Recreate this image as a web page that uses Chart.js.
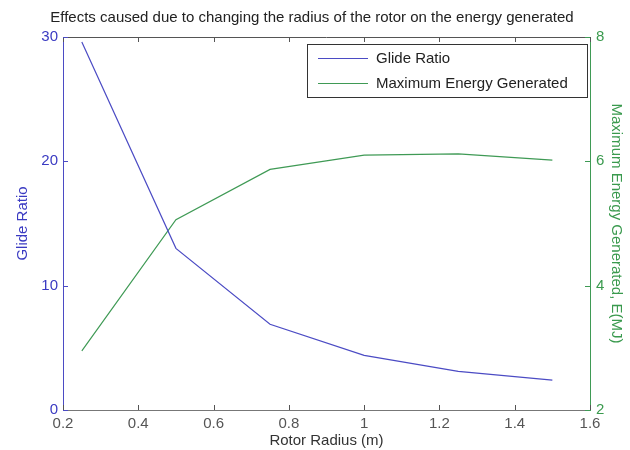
<!DOCTYPE html>
<html>
<head>
<meta charset="utf-8">
<script src="https://cdn.jsdelivr.net/npm/chart.js@4/dist/chart.umd.min.js"></script>
<style>
  html, body { margin: 0; padding: 0; background: #ffffff; }
  #wrap { width: 630px; height: 450px; position: relative; }
</style>
</head>
<body>
<div id="wrap"><canvas id="c" width="630" height="450"></canvas></div>
<script>
// Rotor radius (m) and the two measured quantities
const radius = [0.25, 0.5, 0.75, 1.0, 1.25, 1.5];
const glideRatio = [29.6, 13.0, 6.9, 4.4, 3.1, 2.4];
const energyMJ = [2.95, 5.06, 5.87, 6.10, 6.12, 6.02];

const xTicks = [0.2, 0.4, 0.6, 0.8, 1.0, 1.2, 1.4, 1.6];
const leftTicks = [0, 10, 20, 30];
const rightTicks = [2, 4, 6, 8];

const titleText = 'Effects caused due to changing the radius of the rotor on the energy generated';
const blue = '#4b4bc4';
const green = '#3f9a55';
const blueText = '#3a3ac2';
const greenText = '#3a9a4e';
const FONT = '"Liberation Sans", Arial, sans-serif';
const FS = 15;

// MATLAB-style frame: inward ticks, top border, title and boxed legend
const framePlugin = {
  id: 'frame',
  afterDraw(chart) {
    const { ctx, chartArea: a, scales } = chart;
    const L = 5;
    ctx.save();
    ctx.lineWidth = 1;
    // top border
    ctx.strokeStyle = '#555555';
    ctx.beginPath();
    ctx.moveTo(a.left, a.top + 0.5);
    ctx.lineTo(a.right, a.top + 0.5);
    ctx.stroke();
    // x ticks, bottom and top, pointing into the plot
    xTicks.forEach(v => {
      const px = Math.round(scales.x.getPixelForValue(v)) + 0.5;
      ctx.beginPath();
      ctx.moveTo(px, a.bottom); ctx.lineTo(px, a.bottom - L);
      ctx.moveTo(px, a.top); ctx.lineTo(px, a.top + L);
      ctx.stroke();
    });
    // left ticks
    ctx.strokeStyle = blue;
    leftTicks.forEach(v => {
      const py = Math.round(scales.y.getPixelForValue(v)) + 0.5;
      ctx.beginPath(); ctx.moveTo(a.left, py); ctx.lineTo(a.left + L, py); ctx.stroke();
    });
    // right ticks
    ctx.strokeStyle = green;
    rightTicks.forEach(v => {
      const py = Math.round(scales.y2.getPixelForValue(v)) + 0.5;
      ctx.beginPath(); ctx.moveTo(a.right, py); ctx.lineTo(a.right - L, py); ctx.stroke();
    });
    // title
    ctx.fillStyle = '#222222';
    ctx.font = '15px ' + FONT;
    ctx.textAlign = 'center';
    ctx.textBaseline = 'middle';
    ctx.fillText(titleText, 312, 18);
    // legend
    const bx = 307, by = 44, bw = 280, bh = 53;
    ctx.fillStyle = '#ffffff';
    ctx.fillRect(bx, by, bw, bh);
    ctx.strokeStyle = '#333333';
    ctx.strokeRect(bx + 0.5, by + 0.5, bw, bh);
    ctx.textAlign = 'left';
    ctx.fillStyle = '#222222';
    chart.data.datasets.forEach((ds, i) => {
      const y = by + 14 + i * 25;
      ctx.strokeStyle = ds.borderColor;
      ctx.lineWidth = 1.2;
      ctx.beginPath(); ctx.moveTo(bx + 11, y + 0.5); ctx.lineTo(bx + 61, y + 0.5); ctx.stroke();
      ctx.fillText(ds.label, bx + 69, y + 1);
    });
    ctx.restore();
  }
};

new Chart(document.getElementById('c'), {
  type: 'line',
  data: {
    datasets: [
      {
        label: 'Glide Ratio',
        data: radius.map((r, i) => ({ x: r, y: glideRatio[i] })),
        borderColor: blue, borderWidth: 1.2, pointRadius: 0, tension: 0, yAxisID: 'y'
      },
      {
        label: 'Maximum Energy Generated',
        data: radius.map((r, i) => ({ x: r, y: energyMJ[i] })),
        borderColor: green, borderWidth: 1.2, pointRadius: 0, tension: 0, yAxisID: 'y2'
      }
    ]
  },
  options: {
    responsive: false,
    animation: false,
    layout: { padding: { top: 37, left: 0, right: 0, bottom: 0 } },
    plugins: { legend: { display: false }, tooltip: { enabled: false }, title: { display: false } },
    scales: {
      x: {
        type: 'linear', min: 0.2, max: 1.6,
        afterFit(s) { s.height = 40; },
        afterBuildTicks(s) { s.ticks = xTicks.map(v => ({ value: v })); },
        grid: { display: false, drawTicks: false },
        border: { display: true, color: '#777777', width: 1 },
        ticks: {
          padding: 5, color: '#555555', font: { family: FONT, size: FS },
          callback: v => String(Math.round(v * 10) / 10)
        },
        title: { display: true, text: 'Rotor Radius (m)', color: '#333333', font: { family: FONT, size: FS }, padding: { top: 0, bottom: 0 } }
      },
      y: {
        type: 'linear', position: 'left', min: 0, max: 30,
        afterFit(s) { s.width = 63; },
        afterBuildTicks(s) { s.ticks = leftTicks.map(v => ({ value: v })); },
        grid: { display: false, drawTicks: false },
        border: { display: true, color: blue, width: 1 },
        ticks: { padding: 5, color: blueText, font: { family: FONT, size: FS } },
        title: { display: true, text: 'Glide Ratio', color: blueText, font: { family: FONT, size: FS }, padding: { top: 14, bottom: 0 } }
      },
      y2: {
        type: 'linear', position: 'right', min: 2, max: 8,
        afterFit(s) { s.width = 40; },
        afterBuildTicks(s) { s.ticks = rightTicks.map(v => ({ value: v })); },
        grid: { display: false, drawTicks: false },
        border: { display: true, color: green, width: 1 },
        ticks: { padding: 6, color: greenText, font: { family: FONT, size: FS } },
        title: { display: true, text: 'Maximum Energy Generated, E(MJ)', color: greenText, font: { family: FONT, size: FS }, padding: { top: 5, bottom: 0 } }
      }
    }
  },
  plugins: [framePlugin]
});
</script>
</body>
</html>
